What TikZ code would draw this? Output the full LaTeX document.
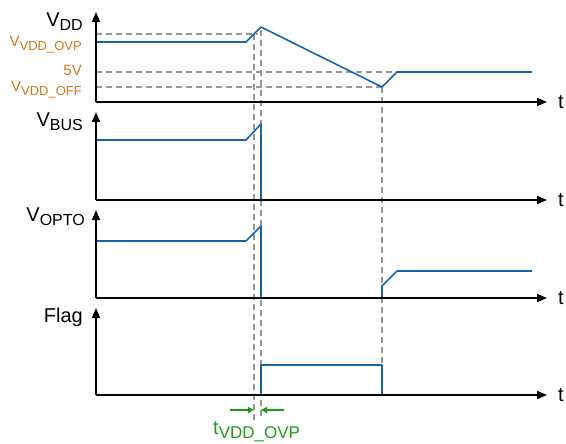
\documentclass[tikz,border=0pt]{standalone}
\usepackage{fontspec}
\setmainfont{Liberation Sans}
\usetikzlibrary{arrows.meta}

\definecolor{sigblue}{RGB}{22,100,172}
\definecolor{lvlorange}{RGB}{212,118,28}
\definecolor{tgreen}{RGB}{24,158,24}
\definecolor{guidegray}{RGB}{150,150,150}

\tikzset{
  axis/.style={line width=1.8pt, -{Triangle[length=10pt,width=8pt]}},
  sig/.style={sigblue, line width=1.6pt, line join=round},
  guide/.style={guidegray, line width=1.1pt, dash pattern=on 6pt off 4pt},
  tarrow/.style={tgreen, line width=1.2pt, -{Triangle[length=6pt,width=6pt]}},
  big/.style={font=\fontsize{20}{20}\selectfont, inner sep=0pt},
  lvl/.style={font=\fontsize{15}{15}\selectfont, lvlorange, inner sep=0pt},
}
% signal name with a large, low subscript
\newcommand{\bigsub}[2]{#1\raisebox{-4pt}{\fontsize{16}{16}\selectfont #2}}
\newcommand{\lvlsub}[2]{#1\raisebox{-3.5pt}{\fontsize{13}{13}\selectfont #2}}

\begin{document}
\begin{tikzpicture}[x=1pt, y=-1pt]
    \useasboundingbox (0,0) rectangle (566,444);

    %% guide lines
    \draw[guide] (96,34) -- (258,34);
    \draw[guide] (96,72) -- (397,72);
    \draw[guide] (96,87) -- (382,87);
    \draw[guide] (254,34) -- (254,423);
    \draw[guide] (261,30) -- (261,418);
    \draw[guide] (382,87) -- (382,395);

    %% signals
    \draw[sig] (96,42) -- (246,42) -- (261,27) -- (382,87) -- (397,72) -- (532,72);
    \draw[sig] (96,140) -- (246,140) -- (261,124) -- (261,200);
    \draw[sig] (96,241) -- (246,241) -- (261,226) -- (261,298);
    \draw[sig] (382,298) -- (382,286) -- (397,271) -- (532,271);
    \draw[sig] (261,395) -- (261,365) -- (382,365) -- (382,395);

    %% axes
    \draw[axis] (96,102) -- (96,12);
    \draw[axis] (96,102) -- (547,102);
    \draw[axis] (96,200) -- (96,112);
    \draw[axis] (96,200) -- (547,200);
    \draw[axis] (96,298) -- (96,210);
    \draw[axis] (96,298) -- (547,298);
    \draw[axis] (96,395) -- (96,308);
    \draw[axis] (96,395) -- (547,395);

    %% axis labels
    \node[big, anchor=base east] (vddLabel)  at (83,27)  {\bigsub{V}{DD}};
    \node[big, anchor=base east] (vbusLabel) at (83,127) {\bigsub{V}{BUS}};
    \node[big, anchor=base east] (voptoLabel) at (85,222) {\bigsub{V}{OPTO}};
    \node[big, anchor=base east] (flagLabel) at (83,322) {Flag};
    \node[big, anchor=west] (tVdd)   at (558,102) {t};
    \node[big, anchor=west] (tBus)   at (558,200) {t};
    \node[big, anchor=west] (tOpto)  at (558,298) {t};
    \node[big, anchor=west] (tFlag)  at (558,395) {t};

    %% levels
    \node[lvl, anchor=base east] (ovpLabel) at (82,47) {\lvlsub{V}{VDD\_OVP}};
    \node[lvl, anchor=base east] (fiveLabel) at (82,76) {5V};
    \node[lvl, anchor=base east] (offLabel) at (82,92) {\lvlsub{V}{VDD\_OFF}};

    %% OVP delay
    \coordinate (ovpA) at (254,410);
    \coordinate (ovpB) at (261,410);
    \draw[tarrow] (230,410) -- (ovpA);
    \draw[tarrow] (284,410) -- (ovpB);
    \node[big, tgreen, anchor=base west] (ovpTime) at (213,434)
      {t\raisebox{-4pt}{\fontsize{17}{17}\selectfont VDD\_OVP}};
\end{tikzpicture}
\end{document}
